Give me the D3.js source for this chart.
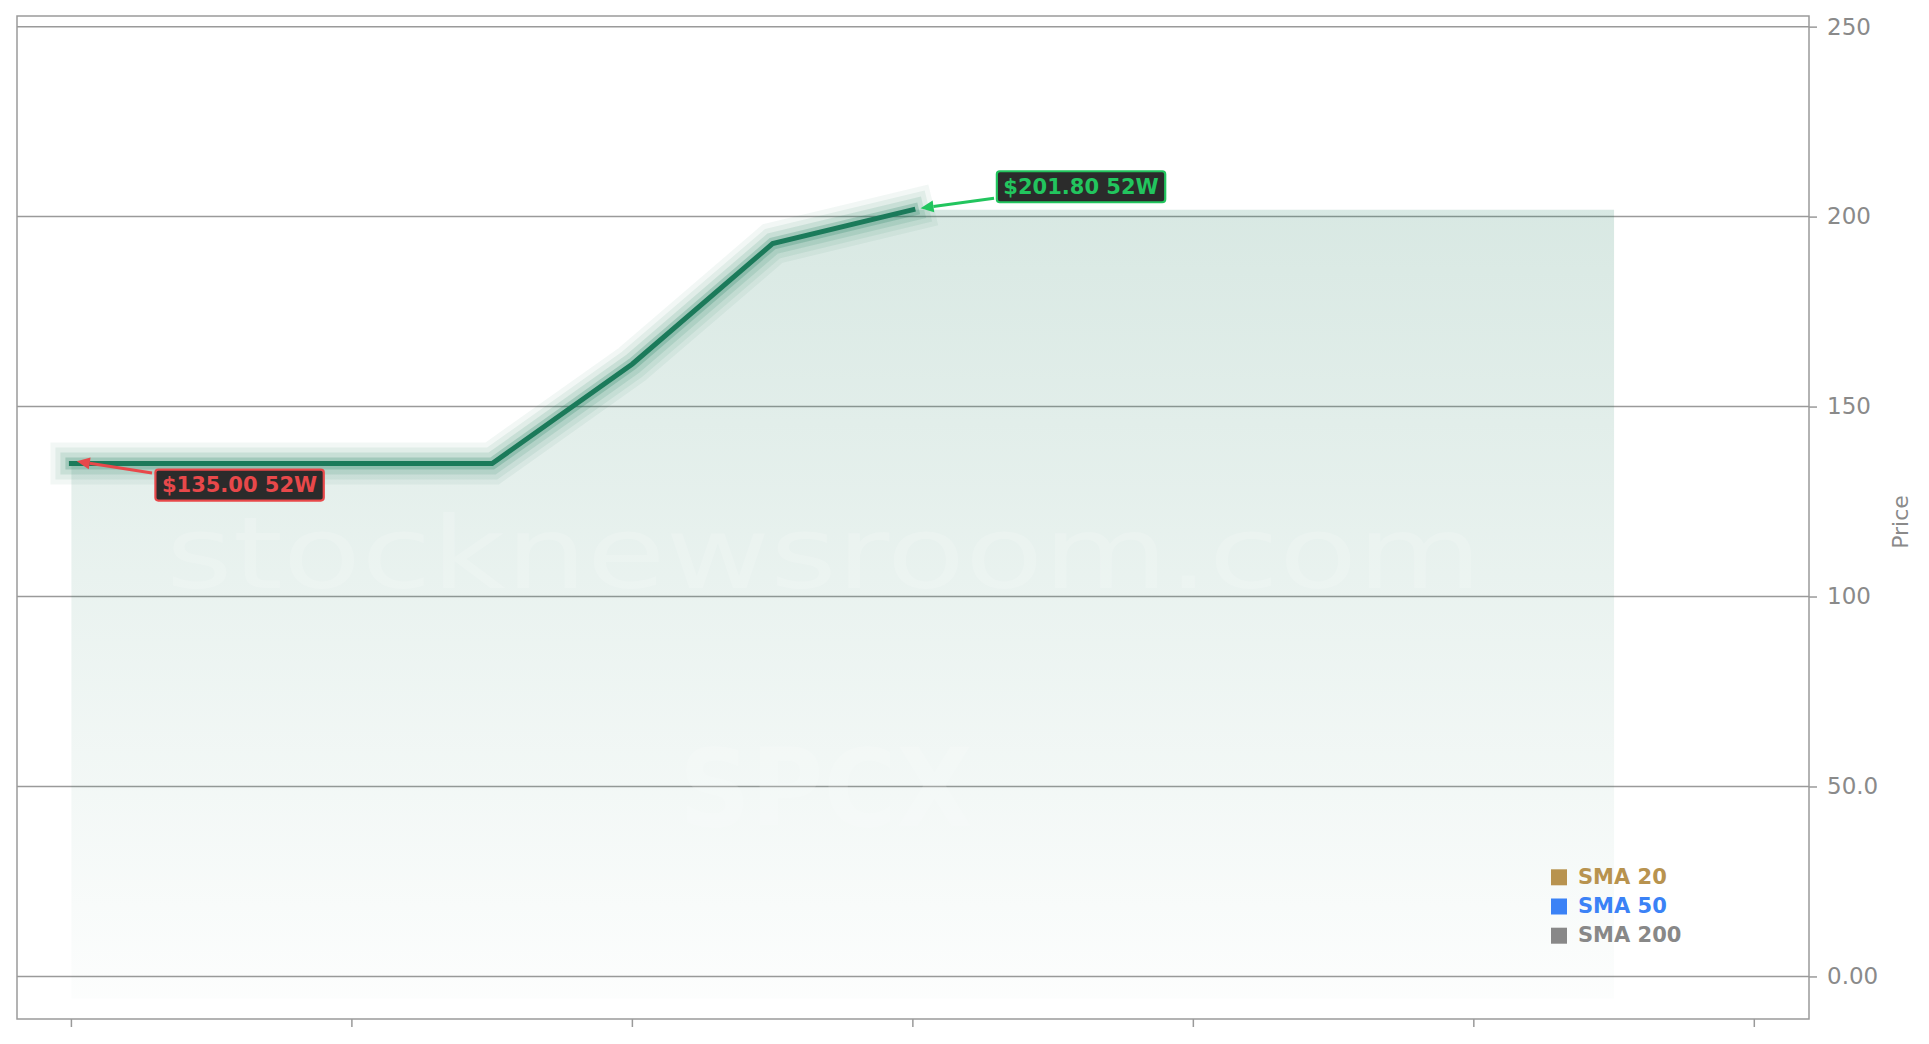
<!DOCTYPE html>
<html><head><meta charset="utf-8">
<script src="https://cdn.jsdelivr.net/npm/d3@7"></script>
<style>html,body{margin:0;padding:0;background:#fff;overflow:hidden}</style>
</head><body>
<svg id="chart" width="1929" height="1044"></svg>
<script>
// ---------- data ----------
const lineIndex = [0, 1, 2, 3, 4, 5, 6];
const linePrice = [135.0, 135.0, 135.0, 135.0, 161.2, 192.9, 201.8];
const areaIndex = [0, 1, 2, 3, 4, 5, 6, 7, 8, 9, 10, 11];
const areaPrice = [135.0, 135.0, 135.0, 135.0, 161.2, 192.9, 201.8, 201.8, 201.8, 201.8, 201.8, 201.8];
const yTickValues = [0, 50, 100, 150, 200, 250];
const yTickLabels = ["0.00", "50.0", "100", "150", "200", "250"];
const xTickValues = [0, 2, 4, 6, 8, 10, 12];
const lowMark = { index: 0, value: 135.0, text: "$135.00 52W" };
const highMark = { index: 6, value: 201.8, text: "$201.80 52W" };
const legendNames = ["SMA 20", "SMA 50", "SMA 200"];
const legendColors = ["#b8934f", "#3b82f6", "#888888"];
const watermarkTexts = ["stocknewsroom.com", "SPCX"];
const yAxisTitle = "Price";

// ---------- layout ----------
const L = 17, R = 1809, T = 16, B = 1019;
const svg = d3.select("#chart");
const x = d3.scaleLinear().domain([-0.388, 12.39]).range([L, R]);
const y = d3.scaleLinear().domain([-11.2, 252.8]).range([B, T]);
const gridColor = "#9a9a9a";
const lineColor = "#1b7a5a";

// gradient
const defs = svg.append("defs");
const grad = defs.append("linearGradient").attr("id", "areaGrad")
  .attr("gradientUnits", "userSpaceOnUse")
  .attr("x1", 0).attr("x2", 0).attr("y1", y(201.8)).attr("y2", y(-5.8));
grad.append("stop").attr("offset", 0).attr("stop-color", lineColor).attr("stop-opacity", 0.17);
grad.append("stop").attr("offset", 1).attr("stop-color", lineColor).attr("stop-opacity", 0.012);

// gridlines
svg.append("g").selectAll("line").data(yTickValues).join("line")
  .attr("x1", L).attr("x2", R).attr("y1", d => y(d)).attr("y2", d => y(d))
  .attr("stroke", gridColor).attr("stroke-width", 1.5);

// area
const areaData = areaIndex.map((d, i) => [d, areaPrice[i]]);
svg.append("path").datum(areaData)
  .attr("d", d3.area().x(d => x(d[0])).y0(y(-5.8)).y1(d => y(d[1])))
  .attr("fill", "url(#areaGrad)");

// watermarks
svg.append("text").text(watermarkTexts[0])
  .attr("x", 824).attr("y", 588).attr("text-anchor", "middle")
  .attr("font-family", "DejaVu Sans").attr("font-size", 100)
  .attr("textLength", 1316).attr("lengthAdjust", "spacingAndGlyphs")
  .attr("fill", "#ffffff").attr("fill-opacity", 0.16);
svg.append("text").text(watermarkTexts[1])
  .attr("x", 826).attr("y", 826).attr("text-anchor", "middle")
  .attr("font-family", "DejaVu Sans").attr("font-weight", "bold").attr("font-size", 108)
  .attr("textLength", 294).attr("lengthAdjust", "spacingAndGlyphs")
  .attr("fill", "#ffffff").attr("fill-opacity", 0.14);

// line with glow
const lineData = lineIndex.map((d, i) => [d, linePrice[i]]);
const lineGen = d3.line().x(d => x(d[0])).y(d => y(d[1]));
const glow = [[42, 0.06], [32, 0.08], [22, 0.12], [12, 0.22]];
glow.forEach(([w, o]) => {
  svg.append("path").datum(lineData).attr("d", lineGen)
    .attr("fill", "none").attr("stroke", lineColor).attr("stroke-opacity", o)
    .attr("stroke-width", w).attr("stroke-linecap", "square").attr("stroke-linejoin", "miter");
});
svg.append("path").datum(lineData).attr("d", lineGen)
  .attr("fill", "none").attr("stroke", lineColor)
  .attr("stroke-width", 5).attr("stroke-linecap", "square").attr("stroke-linejoin", "miter");

// frame
svg.append("rect").attr("x", L).attr("y", T).attr("width", R - L).attr("height", B - T)
  .attr("fill", "none").attr("stroke", gridColor).attr("stroke-width", 1.5);

// x ticks (no labels)
svg.append("g").selectAll("line").data(xTickValues).join("line")
  .attr("x1", d => x(d)).attr("x2", d => x(d)).attr("y1", B).attr("y2", B + 8)
  .attr("stroke", gridColor).attr("stroke-width", 1.5);

// y axis right
const yAxis = svg.append("g").attr("transform", `translate(${R},0)`)
  .call(d3.axisRight(y).tickValues(yTickValues).tickFormat((d, i) => yTickLabels[i]).tickSize(8).tickPadding(10));
yAxis.select(".domain").remove();
yAxis.selectAll(".tick line").attr("stroke", gridColor).attr("stroke-width", 1.5);
yAxis.selectAll(".tick text").attr("fill", "#8a8a8a")
  .attr("font-family", "DejaVu Sans").attr("font-size", 23);

svg.append("text").text(yAxisTitle)
  .attr("transform", `translate(1908,522) rotate(-90)`)
  .attr("text-anchor", "middle")
  .attr("font-family", "DejaVu Sans").attr("font-size", 22).attr("fill", "#8a8a8a");

// annotations
function annotate(mark, color, boxDx, boxDy, tailDx, tailDy, tipDx, tipDy) {
  const px = x(mark.index), py = y(mark.value);
  const bx = px + boxDx, by = py + boxDy;
  const g = svg.append("g");
  const t = g.append("text").text(mark.text)
    .attr("x", bx + 6.5).attr("y", by + 22.8)
    .attr("font-family", "DejaVu Sans").attr("font-weight", "bold").attr("font-size", 21)
    .attr("fill", color);
  const tw = t.node().getComputedTextLength();
  g.insert("rect", "text").attr("x", bx).attr("y", by).attr("width", tw + 13).attr("height", 31)
    .attr("rx", 3).attr("fill", "#2b2b2b").attr("stroke", color).attr("stroke-width", 2.2);
  // arrow
  const x1 = bx + tailDx, y1 = by + tailDy, x2 = px + tipDx, y2 = py + tipDy;
  const ang = Math.atan2(y2 - y1, x2 - x1);
  const hl = 13, hw = 6;
  const bxh = x2 - hl * Math.cos(ang), byh = y2 - hl * Math.sin(ang);
  svg.append("line").attr("x1", x1).attr("y1", y1).attr("x2", bxh).attr("y2", byh)
    .attr("stroke", color).attr("stroke-width", 3);
  const pts = [[x2, y2],
    [bxh + hw * Math.sin(ang), byh - hw * Math.cos(ang)],
    [bxh - hw * Math.sin(ang), byh + hw * Math.cos(ang)]];
  svg.append("polygon").attr("points", pts.map(p => p.join(",")).join(" ")).attr("fill", color);
}
annotate(lowMark, "#e8484a", 84, 6, -3.4, 3.4, 5.4, -2.2);
annotate(highMark, "#22c55e", 84, -38.5, -2.8, 27, 7.7, -1.6);

// legend
const lg = svg.append("g");
legendNames.forEach((name, i) => {
  const yy = 869.3 + i * 29.2;
  lg.append("rect").attr("x", 1551).attr("y", yy).attr("width", 16).attr("height", 16)
    .attr("fill", legendColors[i]);
  lg.append("text").text(name).attr("x", 1578).attr("y", yy + 14.5)
    .attr("font-family", "DejaVu Sans").attr("font-weight", "bold").attr("font-size", 21)
    .attr("fill", legendColors[i]);
});
</script>
</body></html>
